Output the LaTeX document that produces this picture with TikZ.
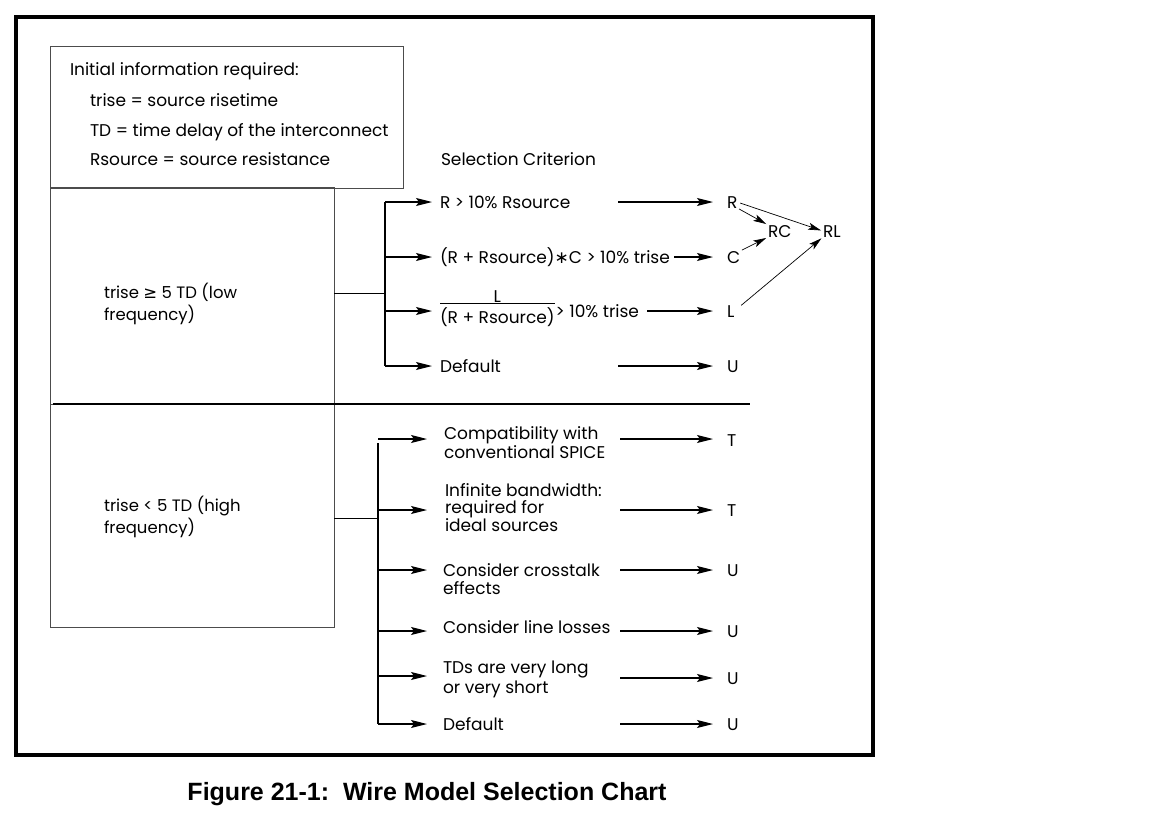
\documentclass[tikz,border=0pt]{standalone}
\usepackage{fontspec}
\setmainfont{Poppins}
\newfontfamily\capfont{Liberation Sans}
\newfontfamily\symfont{DejaVu Sans}
\usetikzlibrary{arrows.meta}
\begin{document}
\begin{tikzpicture}[x=1pt,y=-1pt,
  every node/.style={inner sep=0pt, outer sep=0pt},
  lbl/.style={anchor=base west, font=\fontsize{17}{20}\selectfont},
  blk/.style={anchor=west, align=left, font=\fontsize{17}{#1}\selectfont},
  blk/.default=18,
  cond/.style={anchor=west, align=left, font=\fontsize{16.5}{22}\selectfont},
  res/.style={anchor=base west, font=\fontsize{17}{20}\selectfont},
  box/.style={draw=black!70, line width=1pt},
  wire/.style={line width=1.2pt},
  arr/.style={wire, -{Stealth[length=16pt,width=8pt,inset=3pt]}},
  sarr/.style={line width=0.7pt, -{Stealth[length=13pt,width=7pt,inset=3pt]}},
  rarr/.style={arr, shorten >=14pt},
]
\useasboundingbox (0,0) rectangle (1152,815);
% outer frame
\draw[line width=4pt] (16,17) rectangle (873,755);

% information box
\node[box, anchor=north west, minimum width=353pt, minimum height=142pt] (info) at (50,46) {};
\node[lbl] (i0) at (70,75)  {Initial information required:};
\node[lbl] (i1) at (90,106) {trise = source risetime};
\node[lbl] (i2) at (90,136) {TD = time delay of the interconnect};
\node[lbl] (i3) at (90,165) {Rsource = source resistance};
\node[lbl] (sel) at (441,165) {Selection Criterion};

% condition boxes
\node[box, anchor=north west, minimum width=284pt, minimum height=217pt] (low) at (50,187) {};
\node[box, anchor=north west, minimum width=284pt, minimum height=223pt] (high) at (50,404) {};
\draw[wire] (53,404) -- (750,404);
\node[cond] (lowtxt) at (104,304) {trise {\symfont ≥} 5 TD (low\\frequency)};
\node[cond] (hightxt) at (104,517) {trise < 5 TD (high\\frequency)};

% ---------- low frequency branch ----------
\coordinate (lj) at ([yshift=2pt]low.east);
\coordinate (lb1) at (385,202);
\coordinate (lb2) at (385,257);
\coordinate (lb3) at (385,311);
\coordinate (lb4) at (385,366);
\draw[wire] (lj) -- (lj -| lb1);
\draw[wire] (lb1) -- (lb4);
\coordinate (lt1) at (432,202);
\coordinate (lt2) at (432,257);
\coordinate (lt3) at (432,311);
\coordinate (lt4) at (432,366);
\draw[arr] (lb1) -- (lt1);
\draw[arr] (lb2) -- (lt2);
\draw[arr] (lb3) -- (lt3);
\draw[arr] (lb4) -- (lt4);

\node[lbl] (c1) at (440,208) {R > 10\% Rsource};
\node[lbl] (c2) at (440,263) {(R + Rsource){\symfont ∗}C > 10\% trise};
\node[lbl] (fden) at (440,323) {(R + Rsource)};
\draw[line width=0.8pt] ([yshift=3.5pt]fden.north west) -- ([yshift=3.5pt]fden.north east);
\node[anchor=base, font=\fontsize{17}{20}\selectfont] (fnum) at ([yshift=5pt]fden.north) {L};
\node[lbl] (c3) at ([xshift=1pt]fden.east |- 0,317) {> 10\% trise};
\node[lbl] (c4) at (440,372) {Default};

\node[res] (rR) at (727,208) {R};
\node[res] (rC) at (727,263) {C};
\node[res] (rL) at (727,317) {L};
\node[res] (rU) at (727,372) {U};
\node[res] (rRC) at (768,237) {RC};
\node[res] (rRL) at (823,237) {RL};

\coordinate (la1) at (618,202);
\coordinate (la2) at (674,257);
\coordinate (la3) at (647,311);
\coordinate (la4) at (618,366);
\draw[rarr] (la1) -- (la1 -| rR.west);
\draw[rarr] (la2) -- (la2 -| rC.west);
\draw[rarr] (la3) -- (la3 -| rL.west);
\draw[rarr] (la4) -- (la4 -| rU.west);

\draw[sarr, shorten <=2pt, shorten >=2pt] (rR.south east) -- (rRC.north west);
\draw[sarr, shorten <=2pt, shorten >=2pt] (rC.north east) -- (rRC.south west);
\draw[sarr, shorten <=3pt, shorten >=2pt] (rR.east) -- (rRL.west);
\draw[sarr, shorten <=9pt, shorten >=2pt] (rL.east) -- (rRL.south west);

% ---------- high frequency branch ----------
\coordinate (hj) at ([yshift=-3pt]high.east);
\coordinate (hb1) at (378,439);
\coordinate (hb2) at (378,510);
\coordinate (hb3) at (378,570);
\coordinate (hb4) at (378,631);
\coordinate (hb5) at (378,676);
\coordinate (hb6) at (378,724);
\coordinate (hbt) at (378,443);
\draw[wire] (hj) -- (hj -| hb1);
\draw[wire] (hbt) -- (hb6);
\coordinate (ht1) at (427,439);
\coordinate (ht2) at (427,510);
\coordinate (ht3) at (427,570);
\coordinate (ht4) at (427,631);
\coordinate (ht5) at (427,676);
\coordinate (ht6) at (427,724);
\draw[arr] (hb1) -- (ht1);
\draw[arr] (hb2) -- (ht2);
\draw[arr] (hb3) -- (ht3);
\draw[arr] (hb4) -- (ht4);
\draw[arr] (hb5) -- (ht5);
\draw[arr] (hb6) -- (ht6);

\node[blk=19] (h1) at (444,442.5) {Compatibility with\\conventional SPICE};
\node[blk=17.5] (h2) at (445,507.5) {Infinite bandwidth:\\required for\\ideal sources};
\node[blk=18] (h3) at (443,579) {Consider crosstalk\\effects};
\node[lbl] (h4) at (443,633) {Consider line losses};
\node[blk=20] (h5) at (443,679) {TDs are very long\\or very short};
\node[lbl] (h6) at (443,730) {Default};

\node[res] (rT1) at (727,446) {T};
\node[res] (rT2) at (727,516) {T};
\node[res] (rU3) at (727,576) {U};
\node[res] (rU4) at (727,637) {U};
\node[res] (rU5) at (727,684) {U};
\node[res] (rU6) at (727,730) {U};

\coordinate (ha1) at (620,439);
\coordinate (ha2) at (620,510);
\coordinate (ha3) at (620,570);
\coordinate (ha4) at (620,631);
\coordinate (ha5) at (620,678);
\coordinate (ha6) at (620,724);
\draw[rarr] (ha1) -- (ha1 -| rT1.west);
\draw[rarr] (ha2) -- (ha2 -| rT2.west);
\draw[rarr] (ha3) -- (ha3 -| rU3.west);
\draw[rarr] (ha4) -- (ha4 -| rU4.west);
\draw[rarr] (ha5) -- (ha5 -| rU5.west);
\draw[rarr] (ha6) -- (ha6 -| rU6.west);

% caption
\node[anchor=base, font=\capfont\bfseries\fontsize{25}{30}\selectfont] (cap) at (427,800) {Figure 21-1:\ \ Wire Model Selection Chart};
\end{tikzpicture}
\end{document}
